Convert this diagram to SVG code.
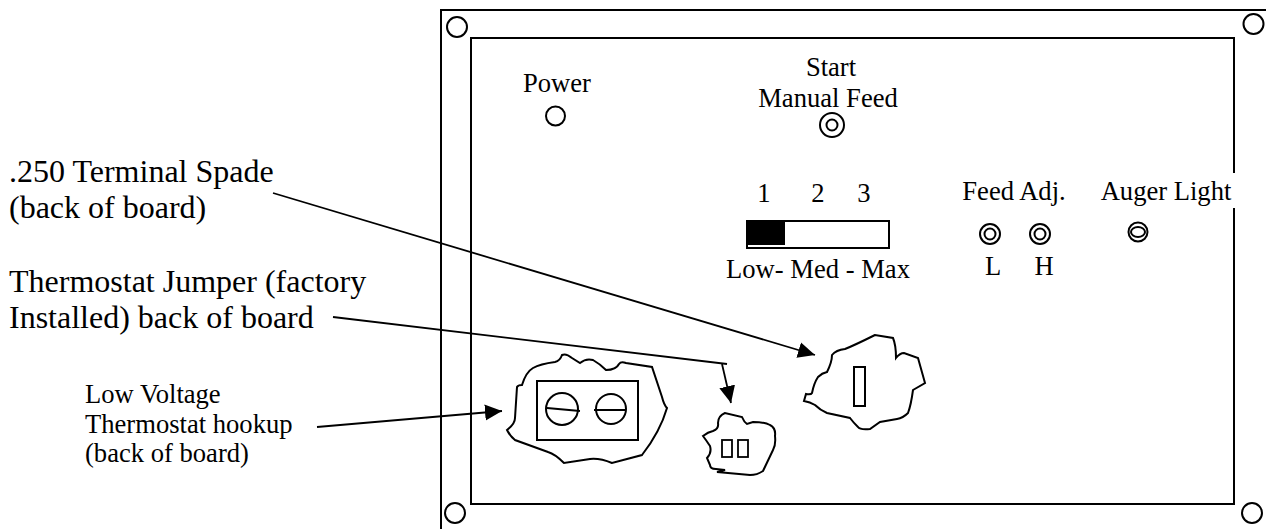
<svg xmlns="http://www.w3.org/2000/svg" width="1266" height="529" viewBox="0 0 1266 529">
<style>
text{font-family:"Liberation Serif","Times New Roman",serif;fill:#000}
.a{font-size:32px}.b{font-size:26.6px}.c{font-size:26.6px;text-anchor:middle}
.l{fill:none;stroke:#000;stroke-width:2}
.t{fill:none;stroke:#000;stroke-width:1.8}
</style>
<defs>
<marker id="ah" markerUnits="userSpaceOnUse" markerWidth="18" markerHeight="18" refX="17" refY="9" orient="auto"><path d="M0 1L17 9L0 17Z" fill="#000"/></marker>
</defs>
<rect width="1266" height="529" fill="#fff"/>
<g id="panel">
<path class="l" d="M441 529V10H1266"/>
<path class="l" d="M1234 173V38H471V504H1234V208"/>
<circle class="l" cx="457" cy="27" r="10"/><circle class="l" cx="1253.500" cy="24" r="10"/>
<circle class="l" cx="1252" cy="513" r="10"/><circle class="l" cx="455" cy="513" r="10"/>
</g>
<g id="power"><text class="c" x="557" y="92">Power</text><circle class="l" cx="555.500" cy="116" r="9.500"/></g>
<g id="start"><text class="c" x="831" y="76">Start</text><text class="c" x="828" y="107">Manual Feed</text><circle class="l" cx="832" cy="125" r="12"/><circle class="l" cx="832" cy="125" r="5.500"/></g>
<g id="switch"><text class="c" x="764" y="202">1</text><text class="c" x="818" y="202">2</text><text class="c" x="864" y="202">3</text>
<rect class="l" x="747" y="221" width="142" height="27"/><rect x="747" y="221" width="38" height="24"/>
<text class="c" x="818" y="278">Low- Med - Max</text></g>
<g id="feed"><text class="c" x="1014" y="200">Feed Adj.</text>
<circle class="l" cx="990" cy="234" r="10"/><circle class="l" cx="990" cy="234" r="5.500"/><circle class="l" cx="1040" cy="234" r="10"/><circle class="l" cx="1040" cy="234" r="5.500"/>
<text class="c" x="993" y="275">L</text><text class="c" x="1044" y="275">H</text></g>
<g id="auger"><text class="c" x="1166" y="200">Auger Light</text><ellipse class="l" cx="1138" cy="232" rx="9.500" ry="9.500"/><ellipse class="l" cx="1138" cy="232" rx="7" ry="5"/></g>
<g id="labels">
<text class="a" x="9" y="182">.250 Terminal Spade</text><text class="a" x="9" y="218">(back of board)</text>
<text class="a" x="9" y="292">Thermostat Jumper (factory</text><text class="a" x="9" y="328">Installed) back of board</text>
<text class="b" x="85" y="403">Low Voltage</text><text class="b" x="85" y="433">Thermostat hookup</text><text class="b" x="85" y="462">(back of board)</text>
</g>
<g id="connectors">
<path class="t" marker-end="url(#ah)" d="M273 193L815 355"/>
<path class="t" d="M333 317L727 364"/>
<path class="t" marker-end="url(#ah)" d="M722 364L731 403"/>
<path class="t" marker-end="url(#ah)" d="M317 427L502 411"/>
</g>
<g id="hookup">
<path class="l" d="M507 430Q515 424 515 418L517 387Q518 385 522 385Q526 372 533 368Q540 364 555 362Q560 361 562 355Q566 353 572 358L580 363Q586 358 593 360Q600 364 606 370Q616 370 619 364Q621 361 626 363L652 367L662 397Q664 405 667 408Q660 432 642 455L612 463Q600 458 590 459L564 463Q555 454 548 452L515 440Q510 436 507 430Z"/>
<rect class="l" x="537" y="381" width="101" height="59"/>
<circle class="l" cx="562" cy="409" r="16"/><circle class="l" cx="611" cy="409" r="15"/>
<path class="l" d="M547 408L580 411M594 410H626"/>
</g>
<g id="jumper">
<path class="l" d="M703 436Q708 432 713 431Q719 429 718 423Q718 416 725 413L742 417Q744 422 747 424Q750 423 753 422Q765 422 770 425Q776 428 775 436Q776 445 773 450L763 471Q757 475 750 475L717 472Q722 471 725 470L716 469Q710 469 710 465L707 458Q712 453 710 446Q706 440 703 436Z"/>
<rect class="t" x="722" y="440" width="10" height="17"/><rect class="t" x="738" y="440" width="10" height="17"/>
</g>
<g id="spade">
<path class="l" d="M804 401L806 394Q811 395 812 393Q814 383 818 377Q822 373 827 372Q832 362 832 355Q836 350 845 349Q855 345 875 335L893 338Q896 345 896 358Q900 353 904 353L918 358L925 383L913 390Q911 405 908 413Q903 418 897 419L880 422L870 429Q860 430 858 427Q853 422 850 418L827 413Q820 410 815 405Q810 402 804 401Z"/>
<rect class="l" x="854" y="367" width="11" height="39"/>
</g>
</svg>
